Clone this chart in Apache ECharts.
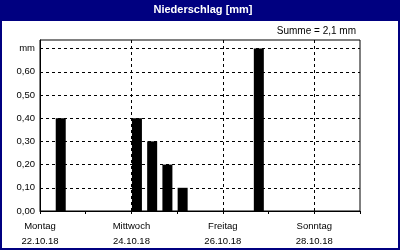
<!DOCTYPE html>
<html><head><meta charset="utf-8">
<script src="https://cdn.jsdelivr.net/npm/echarts@6/dist/echarts.min.js"></script>
<style>html,body{margin:0;padding:0;background:#fff}#c{width:400px;height:250px}</style>
</head><body><div id="c"></div>
<script>
// Data
const startDay = '2018-10-22';
const barTimes = ['2018-10-22 08:00','2018-10-24 00:00','2018-10-24 08:00','2018-10-24 16:00','2018-10-25 00:00','2018-10-26 16:00'];
const barValues = [0.40, 0.40, 0.30, 0.20, 0.10, 0.70];
const xLabelDays = ['Montag','Mittwoch','Freitag','Sonntag'];
const xLabelDates = ['22.10.18','24.10.18','26.10.18','28.10.18'];
const yTickLabels = ['0,00','0,10','0,20','0,30','0,40','0,50','0,60','mm'];
const titleText = 'Niederschlag [mm]';
const sumText = 'Summe = 2,1 mm';

function dayOffset(s){
  const [d,t] = s.split(' ');
  const [Y,M,D] = d.split('-').map(Number);
  const [h,m] = (t||'00:00').split(':').map(Number);
  const [Y0,M0,D0] = startDay.split('-').map(Number);
  return (Date.UTC(Y,M-1,D,h,m) - Date.UTC(Y0,M0-1,D0))/86400000;
}
const data = barTimes.map((t,i)=>[dayOffset(t), barValues[i]]);

const chart = echarts.init(document.getElementById('c'), null, {renderer:'canvas'});
const FONT = 'Liberation Sans';
chart.setOption({
  animation:false,
  backgroundColor:'#fff',
  textStyle:{fontFamily:FONT},
  grid:{left:40,right:40,top:40,height:171,show:true,borderColor:'#000',borderWidth:1,backgroundColor:'transparent'},
  xAxis:[{
    type:'value',min:0,max:7,interval:2,position:'bottom',
    axisLine:{show:true,lineStyle:{color:'#000',width:1}},
    axisTick:{show:false},
    splitLine:{show:true,showMinLine:false,showMaxLine:false,lineStyle:{color:'#000',type:[3,3],width:1}},
    axisLabel:{show:true,color:'#000',fontFamily:FONT,fontSize:9.5,margin:8,lineHeight:15,
      formatter:function(v){const i=Math.round(v/2); if(Math.abs(v-i*2)>1e-6||i>=xLabelDays.length) return ''; return xLabelDays[i]+'\n'+xLabelDates[i];}}
  },{
    type:'value',min:0,max:7,interval:1,position:'bottom',
    axisLine:{show:false},
    axisTick:{show:true,length:3,lineStyle:{color:'#000'}},
    axisLabel:{show:false},splitLine:{show:false}
  }],
  yAxis:{
    type:'value',min:0,max:0.737,interval:0.1,
    axisLine:{show:true,lineStyle:{color:'#000'}},
    axisTick:{show:false},
    splitLine:{show:true,showMinLine:false,showMaxLine:false,lineStyle:{color:'#000',type:[3,3],width:1}},
    axisLabel:{color:'#000',fontFamily:FONT,fontSize:9.5,margin:5,
      formatter:function(v){const i=Math.round(v*10); if(Math.abs(v-i/10)>1e-6||i>=yTickLabels.length) return ''; return yTickLabels[i];}}
  },
  graphic:[
    {type:'rect',shape:{x:0,y:0,width:400,height:21},style:{fill:'#000080'},z:10},
    {type:'rect',shape:{x:1,y:1,width:398,height:248},style:{fill:'none',stroke:'#000080',lineWidth:2},z:10},
    {type:'text',x:203,y:10,style:{text:titleText,fill:'#fff',font:'bold 11px "'+FONT+'"',align:'center',verticalAlign:'middle'},z:11},
    {type:'text',x:356,y:31,style:{text:sumText,fill:'#000',font:'10px "'+FONT+'"',align:'right',verticalAlign:'middle'},z:11}
  ],
  series:[{
    type:'custom',
    data:data,
    encode:{x:0,y:1},
    renderItem:function(params,api){
      const top = api.coord([api.value(0), api.value(1)]);
      const base = api.coord([api.value(0), 0]);
      return {type:'rect',shape:{x:top[0]+0.5,y:top[1],width:10,height:base[1]-top[1]},style:{fill:'#000'}};
    },
    z:5
  }]
});
</script></body></html>
